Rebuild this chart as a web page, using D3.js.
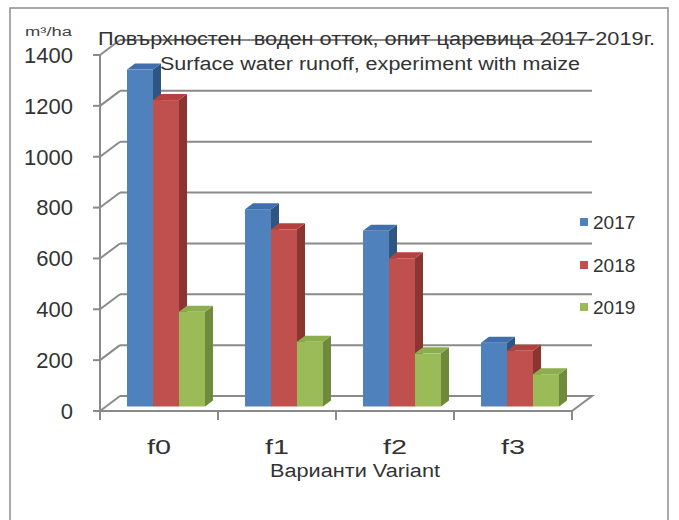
<!DOCTYPE html>
<html><head><meta charset="utf-8">
<script src="https://cdn.jsdelivr.net/npm/d3@7"></script>
<style>body{margin:0;background:#fff}svg{display:block}text{font-family:"Liberation Sans",Arial,sans-serif}</style>
</head><body><svg id="c" width="679" height="520"></svg>
<script>
const categories = ["f0","f1","f2","f3"];
const series = ["2017","2018","2019"];
const values2017 = [1325, 776, 691, 251];
const values2018 = [1205, 697, 583, 219];
const values2019 = [373, 255, 209, 127];
const yTicks = [0,200,400,600,800,1000,1200,1400];
const titleLine1 = "Повърхностен  воден отток, опит царевица 2017-2019г.";
const titleLine2 = "Surface water runoff, experiment with maize";
const unitLabel = "m³/ha";
const xTitle = "Варианти Variant";

const seriesValues = [values2017, values2018, values2019];
const frontCol = ["#4F81BD","#C0504D","#9BBB59"];
const sideCol = ["#2F5583","#8B3533","#6E8A3A"];
const topCol = ["#3F6FAD","#B5403D","#8DAE4C"];

const svg = d3.select("#c");
const DX = 20, DY = -15;       // floor depth
const BDX = 8, BDY = -6;       // bar depth
const OX = (DX-BDX)/2, OY = (DY-BDY)/2;

const y = d3.scaleLinear().domain([0,1400]).range([411,55]);
const x = d3.scaleBand().domain(categories).range([100,572]);
const xi = d3.scaleBand().domain(series).range([21,99]);

svg.append("rect").attr("x",10).attr("y",8).attr("width",658).attr("height",530)
  .attr("fill","none").attr("stroke","#8c8c8c").attr("stroke-width",1.5);

const grid = svg.append("g").attr("stroke","#8a8a8a").attr("stroke-width",2).attr("fill","none");
yTicks.forEach(t=>{
  const yy = y(t);
  if (t>0) grid.append("line").attr("x1",100+DX).attr("y1",yy+DY).attr("x2",572+DX).attr("y2",yy+DY);
  grid.append("line").attr("x1",100).attr("y1",yy).attr("x2",100+DX).attr("y2",yy+DY);
  grid.append("line").attr("x1",93).attr("y1",yy).attr("x2",100).attr("y2",yy);
});
grid.append("path").attr("d",`M100,${y(0)}L572,${y(0)}L${572+DX},${y(0)+DY}L${100+DX},${y(0)+DY}`);
grid.append("line").attr("x1",100).attr("y1",y(1400)).attr("x2",100).attr("y2",y(0)+9);
categories.concat(["end"]).forEach((c,i)=>{
  const xx = 100 + i*x.bandwidth();
  grid.append("line").attr("x1",xx).attr("y1",y(0)).attr("x2",xx).attr("y2",y(0)+9);
});

const bars = svg.append("g");
categories.forEach((c,ci)=>{
  series.forEach((s,si)=>{
    const v = seriesValues[si][ci];
    const x0 = x(c) + xi(s) + OX, w = xi.bandwidth();
    const yt = y(v) + OY, yb = y(0) + OY;
    bars.append("path").attr("fill",sideCol[si])
      .attr("d",`M${x0+w},${yt}L${x0+w+BDX},${yt+BDY}L${x0+w+BDX},${yb+BDY}L${x0+w},${yb}Z`);
    bars.append("path").attr("fill",topCol[si])
      .attr("d",`M${x0},${yt}L${x0+BDX},${yt+BDY}L${x0+w+BDX},${yt+BDY}L${x0+w},${yt}Z`);
    bars.append("rect").attr("x",x0).attr("y",yt).attr("width",w).attr("height",yb-yt).attr("fill",frontCol[si]);
  });
});

svg.append("g").selectAll("text").data(yTicks).join("text")
  .attr("x",73).attr("y",d=>y(d)).attr("dy","0.36em").attr("text-anchor","end")
  .attr("font-size",22).attr("fill","#333").text(d=>d);

svg.append("g").selectAll("text").data(categories).join("text")
  .attr("x",d=>x(d)+x.bandwidth()/2 - 12).attr("y",454)
  .attr("font-size",20).attr("fill","#333")
  .attr("textLength",24).attr("lengthAdjust","spacingAndGlyphs").text(d=>d);

svg.append("text").attr("x",270).attr("y",477)
  .attr("font-size",18).attr("fill","#333")
  .attr("textLength",170).attr("lengthAdjust","spacingAndGlyphs").text(xTitle);

svg.append("text").attr("x",25).attr("y",36)
  .attr("font-size",12).attr("fill","#444")
  .attr("textLength",47).attr("lengthAdjust","spacingAndGlyphs").text(unitLabel);

svg.append("text").attr("x",98).attr("y",45)
  .attr("font-size",18).attr("fill","#333").attr("xml:space","preserve")
  .attr("textLength",557).attr("lengthAdjust","spacingAndGlyphs").text(titleLine1);
svg.append("text").attr("x",160).attr("y",70)
  .attr("font-size",18).attr("fill","#333")
  .attr("textLength",420).attr("lengthAdjust","spacingAndGlyphs").text(titleLine2);

const lg = svg.append("g");
series.forEach((s,i)=>{
  const ly = [222,265,307][i];
  lg.append("rect").attr("x",580).attr("y",ly-4).attr("width",8).attr("height",8).attr("fill",frontCol[i]);
  lg.append("text").attr("x",593).attr("y",ly).attr("dy","0.36em").attr("font-size",19).attr("fill","#333").text(s);
});
</script></body></html>
